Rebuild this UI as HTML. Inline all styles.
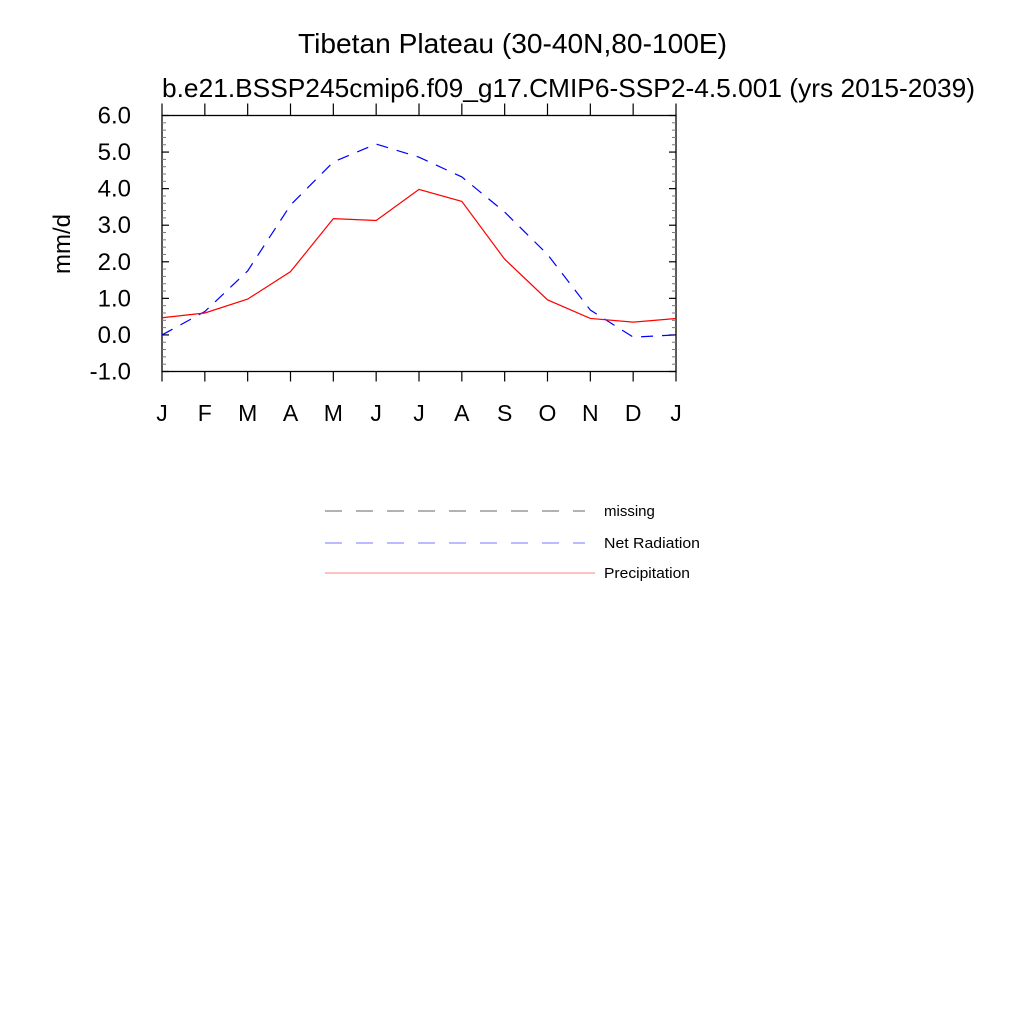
<!DOCTYPE html>
<html><head><meta charset="utf-8"><style>
body{margin:0;background:#fff;}
svg text{font-family:"Liberation Sans",sans-serif;}
</style></head><body>
<svg id="chart" width="1024" height="1024" viewBox="0 0 1024 1024" xmlns="http://www.w3.org/2000/svg">
<rect width="1024" height="1024" fill="#fff"/>
<text x="298" y="53" font-size="28" textLength="429" lengthAdjust="spacingAndGlyphs">Tibetan Plateau (30-40N,80-100E)</text>
<text x="162" y="97" font-size="26" textLength="813" lengthAdjust="spacingAndGlyphs">b.e21.BSSP245cmip6.f09_g17.CMIP6-SSP2-4.5.001 (yrs 2015-2039)</text>
<text transform="translate(70,244) rotate(-90)" font-size="24" text-anchor="middle">mm/d</text>
<g id="axes"></g>
<g id="series"></g>
<g>
<line x1="325" y1="511" x2="585" y2="511" stroke="#999" stroke-width="1.5" stroke-dasharray="17,14"/>
<text x="604" y="516" font-size="15">missing</text>
<line x1="325" y1="543" x2="585" y2="543" stroke="#7777ff" stroke-width="1" stroke-dasharray="17,14"/>
<text x="604" y="548" font-size="15" textLength="96" lengthAdjust="spacingAndGlyphs">Net Radiation</text>
<line x1="325" y1="573" x2="595" y2="573" stroke="#ff8080" stroke-width="1"/>
<text x="604" y="578" font-size="15" textLength="86" lengthAdjust="spacingAndGlyphs">Precipitation</text>
</g>
</svg>
<script>
const months = ["J","F","M","A","M","J","J","A","S","O","N","D","J"];
const precip = [0.47,0.60,0.98,1.73,3.18,3.13,3.98,3.65,2.07,0.96,0.45,0.35,0.45];
const netRad = [0.00,0.64,1.75,3.55,4.73,5.22,4.86,4.32,3.36,2.20,0.68,-0.06,0.00];
const yTicks = [-1,0,1,2,3,4,5,6];
const yTickLabels = ["-1.0","0.0","1.0","2.0","3.0","4.0","5.0","6.0"];
const X0=162, X1=676, Y0=115.5, Y1=371.5, YMIN=-1, YMAX=6;
const xs = i => X0 + i*(X1-X0)/(months.length-1);
const ys = v => Y1 - (v-YMIN)/(YMAX-YMIN)*(Y1-Y0);
const NS="http://www.w3.org/2000/svg";
const axes=document.getElementById('axes'), ser=document.getElementById('series');
function mk(tag,attrs,parent){const e=document.createElementNS(NS,tag);for(const k in attrs)e.setAttribute(k,attrs[k]);parent.appendChild(e);return e;}
const frame=mk('rect',{x:X0,y:Y0,width:X1-X0,height:Y1-Y0,fill:'none',stroke:'#000','stroke-width':1.3},axes);


yTicks.forEach((v,i)=>{
  const y=ys(v);
  const l=mk('line',{x1:X0,x2:X0+7,y1:y,y2:y,stroke:'#000','stroke-width':1.2},axes);
  
  
  const r=mk('line',{x1:X1-7,x2:X1,y1:y,y2:y,stroke:'#000','stroke-width':1.2},axes);
  
  
  const t=mk('text',{x:X0-31,y:y+8,'font-size':24,'text-anchor':'end'},axes);
  t.textContent=yTickLabels[i];
  
  
  if(i<yTicks.length-1){for(let k=1;k<5;k++){const yy=ys(v+k*0.2);
    const m=mk('line',{x1:X0,x2:X0+4,y1:yy,y2:yy,stroke:'#777','stroke-width':1},axes);
    
    
    const m2=mk('line',{x1:X1-4,x2:X1,y1:yy,y2:yy,stroke:'#777','stroke-width':1},axes);
    
    }}
});
months.forEach((m,i)=>{
  const x=xs(i);
  const b=mk('line',{x1:x,x2:x,y1:Y1,y2:Y1+10,stroke:'#000','stroke-width':1.2},axes);
  
  
  const tp=mk('line',{x1:x,x2:x,y1:Y0-12,y2:Y0,stroke:'#000','stroke-width':1.2},axes);
  
  
  const t=mk('text',{x:x,y:421,'font-size':23,'text-anchor':'middle'},axes);
  t.textContent=m;
  
  
});
const pts=a=>a.map((v,i)=>xs(i)+','+ys(v)).join(' ');
const nr=mk('polyline',{points:pts(netRad),fill:'none',stroke:'#0000ff','stroke-width':1.2,'stroke-dasharray':'12,9'},ser);


const pr=mk('polyline',{points:pts(precip),fill:'none',stroke:'#ff0000','stroke-width':1.2},ser);


</script>
</body></html>
